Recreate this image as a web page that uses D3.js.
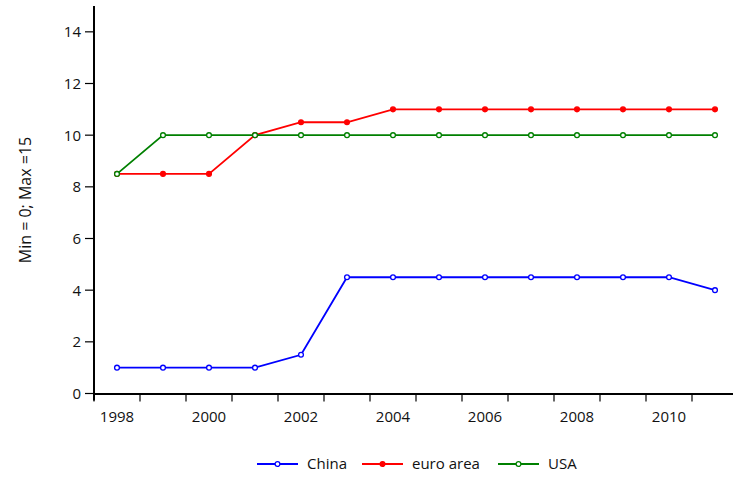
<!DOCTYPE html>
<html><head><meta charset="utf-8">
<script src="https://cdn.jsdelivr.net/npm/d3@7"></script>
<style>body{margin:0;background:#fff}svg{display:block}text{font-family:"Open Sans",sans-serif;fill:#111}</style>
</head><body><svg id="c" width="733" height="479"></svg>
<script>
const years = [1998,1999,2000,2001,2002,2003,2004,2005,2006,2007,2008,2009,2010,2011];
const china = [1,1,1,1,1.5,4.5,4.5,4.5,4.5,4.5,4.5,4.5,4.5,4];
const euro = [8.5,8.5,8.5,10,10.5,10.5,11,11,11,11,11,11,11,11];
const usa = [8.5,10,10,10,10,10,10,10,10,10,10,10,10,10];
const yTicks = [0,2,4,6,8,10,12,14];
const xLabels = [1998,2000,2002,2004,2006,2008,2010];
const seriesNames = ["China","euro area","USA"];

const svg = d3.select("#c");
const x0 = 94, step = 46;
const x = d3.scaleLinear().domain([1997.5, 2011.5]).range([x0, x0 + step*14]);
const y = d3.scaleLinear().domain([0, 15]).range([393.5, 6]);

// y axis
const g = svg.append("g");
g.append("line").attr("x1",x0).attr("x2",x0).attr("y1",y(15)).attr("y2",y(0)+7).attr("stroke","#000").attr("stroke-width",2);
yTicks.forEach(t=>{
  g.append("line").attr("x1",x0-9).attr("x2",x0).attr("y1",y(t)).attr("y2",y(t)).attr("stroke","#000").attr("stroke-width",1.2);
  g.append("text").attr("x",x0-13).attr("y",y(t)).attr("dy","0.36em").attr("text-anchor","end").attr("font-size",15).text(t);
});
// x axis
g.append("line").attr("x1",x0-1).attr("x2",x(2011.5)).attr("y1",y(0)+0.5).attr("y2",y(0)+0.5).attr("stroke","#000").attr("stroke-width",2);
d3.range(1997.5, 2012, 1).forEach(v=>{
  g.append("line").attr("x1",x(v)).attr("x2",x(v)).attr("y1",y(0)).attr("y2",y(0)+8).attr("stroke","#000").attr("stroke-width",1.2);
});
xLabels.forEach(v=>{
  g.append("text").attr("x",x(v)).attr("y",y(0)+28.5).attr("text-anchor","middle").attr("font-size",15).text(v);
});
svg.append("text").attr("transform","translate(31,200) rotate(-90)").attr("text-anchor","middle").attr("font-size",16).text("Min = 0; Max =15");

const series = [
  {name:seriesNames[0], vals:china, color:"#0000ff", filled:false},
  {name:seriesNames[1], vals:euro, color:"#ff0000", filled:true},
  {name:seriesNames[2], vals:usa, color:"#008000", filled:false}
];
const line = d3.line().x((d,i)=>x(years[i])).y(d=>y(d));
series.forEach(s=>{
  svg.append("path").datum(s.vals).attr("d",line).attr("fill","none").attr("stroke",s.color).attr("stroke-width",1.8);
  svg.selectAll(null).data(s.vals).enter().append("circle")
    .attr("cx",(d,i)=>x(years[i])).attr("cy",d=>y(d)).attr("r",2.4)
    .attr("fill",s.filled?s.color:"#fff").attr("stroke",s.color).attr("stroke-width",1.3);
});

// legend
const legX = [257,362,498];
series.forEach((s,i)=>{
  const lg = svg.append("g").attr("transform",`translate(${legX[i]},464)`);
  lg.append("line").attr("x1",0).attr("x2",41).attr("stroke",s.color).attr("stroke-width",1.8);
  lg.append("circle").attr("cx",20.5).attr("r",2.4).attr("fill",s.filled?s.color:"#fff").attr("stroke",s.color).attr("stroke-width",1.3);
  lg.append("text").attr("x",50).attr("dy","0.36em").attr("font-size",15).text(s.name);
});
</script></body></html>
